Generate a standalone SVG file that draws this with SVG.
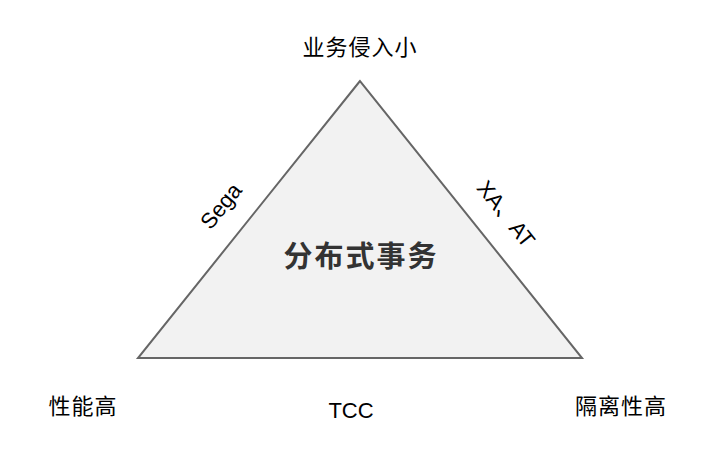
<svg xmlns="http://www.w3.org/2000/svg" width="708" height="450" viewBox="0 0 708 450">
<style>
.lbl{font-family:"Liberation Sans","Noto Sans CJK SC",sans-serif;font-size:22px;fill:#000;text-anchor:middle}
.cjk{font-family:"Noto Sans CJK SC","Liberation Sans",sans-serif;font-size:22px;fill:#000;text-anchor:middle;letter-spacing:1px}
.title{font-family:"Noto Sans CJK SC",sans-serif;font-size:29px;font-weight:bold;fill:#333;text-anchor:middle;letter-spacing:2px}
</style>
<rect width="708" height="450" fill="#fff"/>
<g id="triangle">
<polygon points="360,81 138,358 582,358" fill="#f2f2f2" stroke="#666" stroke-width="2" stroke-linejoin="miter"/>
<text class="title" x="361" y="267">分布式事务</text>
</g>
<g id="top"><text class="cjk" x="360" y="55">业务侵入小</text></g>
<g id="left"><text class="cjk" x="83" y="414">性能高</text></g>
<g id="right"><text class="cjk" x="621" y="414">隔离性高</text></g>
<g id="connectors">
<g id="bottom"><text class="lbl" x="351" y="418">TCC</text></g>
<g id="sega"><text class="lbl" x="0" y="0" dominant-baseline="central" transform="translate(221,206) rotate(-51.3)" font-size="21">Sega</text></g>
<g id="xaat"><text class="lbl" x="0" y="0" dominant-baseline="central" transform="translate(506,214) rotate(51.3)" font-size="21">XA、AT</text></g>
</g>
</svg>
